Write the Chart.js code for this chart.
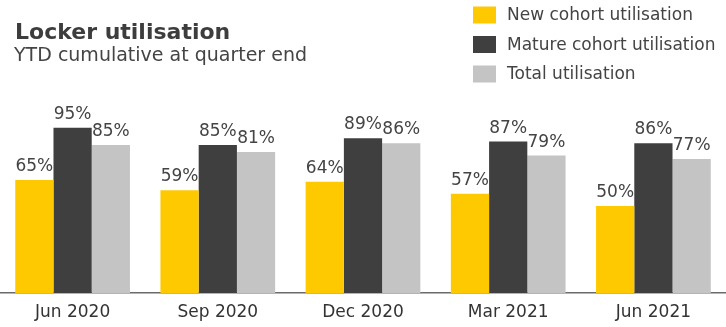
<!DOCTYPE html>
<html lang="en">
<head>
    <meta charset="UTF-8">
    <title>Locker utilisation</title>
    <script src="https://cdn.jsdelivr.net/npm/chart.js"></script>
    <style>
        body {
            margin: 0;
            padding: 0;
            background: #fff;
        }
        .wrap {
            position: relative;
            width: 726px;
            height: 327px;
        }
    </style>
</head>
<body>
    <div class="wrap">
        <canvas id="lockerChart"></canvas>
    </div>
    <script>
        const quarters = ['Jun 2020', 'Sep 2020', 'Dec 2020', 'Mar 2021', 'Jun 2021'];
        const newCohort = [65, 59, 64, 57, 50];
        const matureCohort = [95, 85, 89, 87, 86];
        const totalUtil = [85, 81, 86, 79, 77];

        const seriesNames = ['New cohort utilisation', 'Mature cohort utilisation', 'Total utilisation'];
        const seriesColours = ['#FFC900', '#3F3F3F', '#C4C4C4'];

        const FONT = '"DejaVu Sans", sans-serif';

        // title, subtitle and the legend block in the top right
        const headerPlugin = {
            id: 'header',
            afterDraw(chart) {
                const ctx = chart.ctx;
                ctx.save();
                ctx.textBaseline = 'alphabetic';
                ctx.textAlign = 'left';
                ctx.fillStyle = '#3d3d3d';
                ctx.font = 'bold 22px ' + FONT;
                ctx.fillText('Locker utilisation', 15, 39);
                ctx.fillStyle = '#444';
                ctx.font = '19px ' + FONT;
                ctx.fillText('YTD cumulative at quarter end', 14, 61);

                ctx.font = '17px ' + FONT;
                ctx.textBaseline = 'middle';
                chart.data.datasets.forEach((ds, i) => {
                    const y = 15 + i * 29.5;
                    ctx.fillStyle = ds.backgroundColor;
                    ctx.fillRect(473, y - 8.5, 23, 17);
                    ctx.fillStyle = '#444';
                    ctx.fillText(ds.label, 507, y + 1);
                });
                ctx.restore();
            }
        };

        // percentage labels above each bar
        const valueLabels = {
            id: 'valueLabels',
            afterDatasetsDraw(chart) {
                const ctx = chart.ctx;
                ctx.save();
                ctx.font = '17px ' + FONT;
                ctx.fillStyle = '#444';
                ctx.textAlign = 'center';
                ctx.textBaseline = 'alphabetic';
                chart.data.datasets.forEach((ds, i) => {
                    chart.getDatasetMeta(i).data.forEach((bar, j) => {
                        ctx.fillText(ds.data[j] + '%', bar.x, bar.y - 9);
                    });
                });
                ctx.restore();
            }
        };

        new Chart(document.getElementById('lockerChart'), {
            type: 'bar',
            data: {
                labels: quarters,
                datasets: [
                    { label: seriesNames[0], data: newCohort, backgroundColor: seriesColours[0] },
                    { label: seriesNames[1], data: matureCohort, backgroundColor: seriesColours[1] },
                    { label: seriesNames[2], data: totalUtil, backgroundColor: seriesColours[2] }
                ]
            },
            options: {
                responsive: true,
                maintainAspectRatio: false,
                animation: false,
                datasets: {
                    bar: { categoryPercentage: 0.79, barPercentage: 1.0 }
                },
                layout: {
                    padding: { top: 119, left: -2, right: 0, bottom: -5 }
                },
                plugins: {
                    legend: { display: false },
                    title: { display: false },
                    tooltip: { enabled: false }
                },
                scales: {
                    x: {
                        grid: { display: false, drawTicks: false, tickLength: 0 },
                        border: { display: true, color: '#6b6b6b', width: 1.5 },
                        ticks: {
                            color: '#333',
                            padding: 11,
                            font: { family: FONT, size: 17, lineHeight: 1.0 }
                        }
                    },
                    y: {
                        display: false,
                        min: 0,
                        max: 100
                    }
                }
            },
            plugins: [valueLabels, headerPlugin]
        });
    </script>
</body>
</html>
